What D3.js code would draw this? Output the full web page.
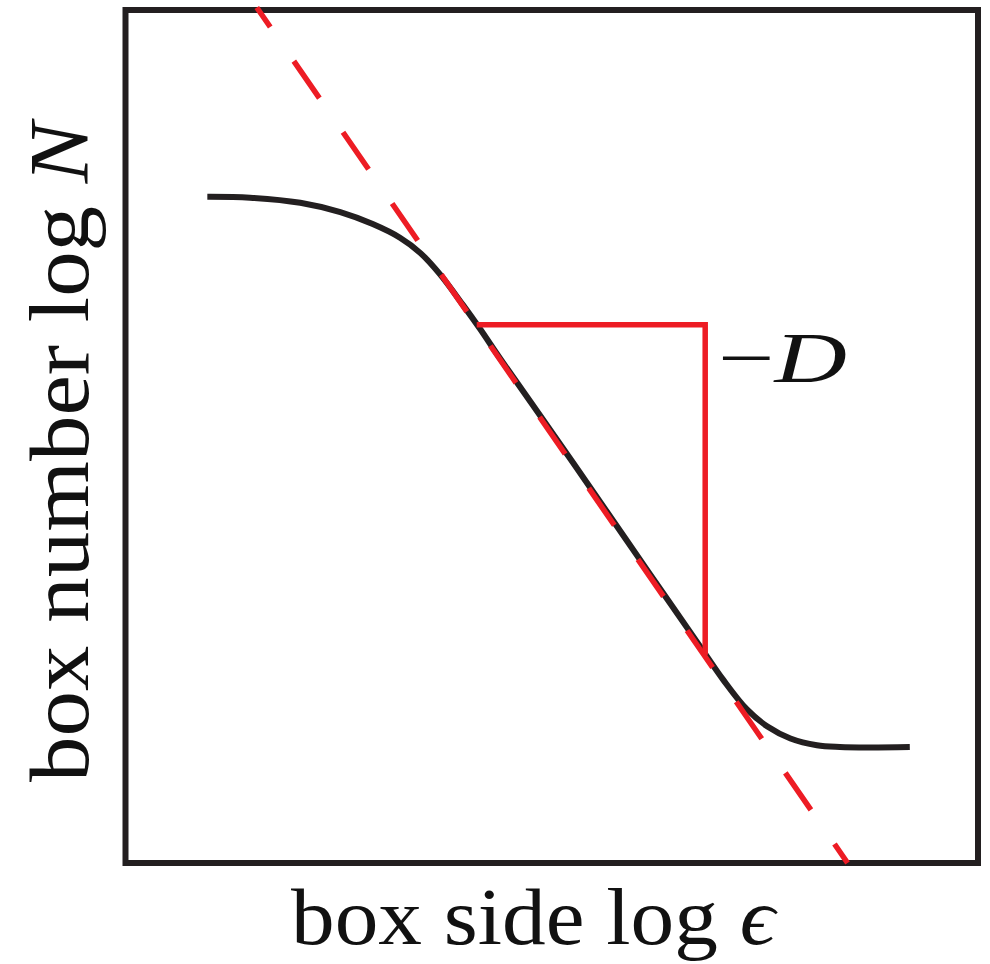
<!DOCTYPE html>
<html>
<head>
<meta charset="utf-8">
<script src="https://cdn.jsdelivr.net/npm/d3@7"></script>
<style>
  html, body { margin: 0; padding: 0; background: #fff; }
  svg { display: block; }
</style>
</head>
<body>
<svg id="chart" width="990" height="964"></svg>
<script>
// Box-counting curve: log N versus log epsilon (arbitrary units, 0..10 on both axes)
const logEps = [0.96, 1.46, 2.05, 2.52, 2.90, 3.22, 3.46, 3.69, 3.96, 4.16, 4.39, 4.98,
                5.57, 6.15, 6.74, 7.01, 7.29, 7.53, 7.80, 8.11, 8.38, 8.73, 9.20];
const logN   = [7.81, 7.80, 7.74, 7.63, 7.49, 7.33, 7.15, 6.90, 6.54, 6.26, 5.92, 5.08,
                4.23, 3.39, 2.54, 2.15, 1.80, 1.60, 1.46, 1.38, 1.36, 1.355, 1.36];

// Straight-line fit through the scaling region (slope -D)
const fitEps = [1.54, 8.47];
const fitN   = [10.03, 0.00];

// Slope triangle drawn against the fit
const triEps = [4.12, 6.80, 6.80];
const triN   = [6.31, 6.31, 2.44];

// Text
const xLabel = ["box side log ", "\u03F5"];
const yLabel = ["box number log ", "N"];
const slopeLabel = ["\u2212", "D"];

const svg = d3.select("#chart");
const ink = "#231f20";
const red = "#ed1c24";

const x = d3.scaleLinear().domain([0, 10]).range([125.5, 978]);
const y = d3.scaleLinear().domain([0, 10]).range([863, 10]);

// Frame
svg.append("rect")
  .attr("x", x(0)).attr("y", y(10))
  .attr("width", x(10) - x(0)).attr("height", y(0) - y(10))
  .attr("fill", "none").attr("stroke", ink).attr("stroke-width", 6);

// Measured curve
svg.append("path")
  .datum(d3.zip(logEps, logN))
  .attr("d", d3.line().x(d => x(d[0])).y(d => y(d[1])).curve(d3.curveCatmullRom.alpha(0.5)))
  .attr("fill", "none").attr("stroke", ink).attr("stroke-width", 6);

// Fit line (dashed)
svg.append("path")
  .datum(d3.zip(fitEps, fitN))
  .attr("d", d3.line().x(d => x(d[0])).y(d => y(d[1])))
  .attr("fill", "none").attr("stroke", red).attr("stroke-width", 5.5)
  .attr("stroke-dasharray", "45 41.5")
  .attr("stroke-dashoffset", 21.3);

// Slope triangle
svg.append("path")
  .datum(d3.zip(triEps, triN))
  .attr("d", d3.line().x(d => x(d[0])).y(d => y(d[1])))
  .attr("fill", "none").attr("stroke", red).attr("stroke-width", 5.5)
  .attr("stroke-linejoin", "miter");

// Text helper: upright part + italic part, stretched to a target width
function label(parts, size, x0, base, width, rotate) {
  const g = svg.append("g");
  const t = g.append("text")
    .attr("font-family", "'Liberation Serif', 'DejaVu Serif', serif")
    .attr("font-size", size).attr("fill", "#111");
  t.append("tspan").text(parts[0]);
  t.append("tspan").attr("font-style", "italic").text(parts[1]);
  const bb = t.node().getBBox();
  const sx = width / bb.width;
  t.attr("x", -bb.x);
  if (rotate) {
    g.attr("transform", `translate(${base},${x0}) rotate(-90) scale(${sx},1)`);
  } else {
    g.attr("transform", `translate(${x0},${base}) scale(${sx},1)`);
  }
}

label(xLabel, 80, 291, 944, 487, false);
label(yLabel, 84, 782, 88, 664, true);
label(slopeLabel, 72, 718, 382, 129, false);
</script>
</body>
</html>
